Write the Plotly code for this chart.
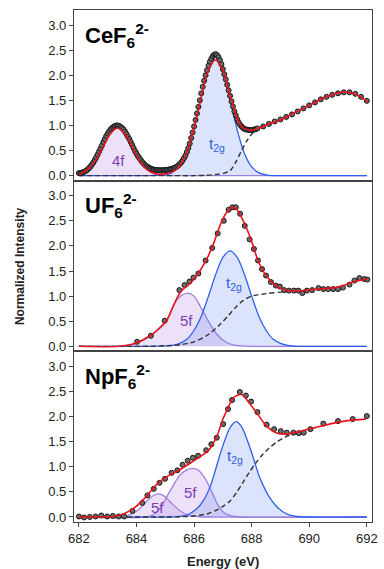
import plotly.graph_objects as go
from plotly.subplots import make_subplots

# ---------------- shared axis values ----------------
energy_ticks = [682, 684, 686, 688, 690, 692]
intensity_ticks = [0.0, 0.5, 1.0, 1.5, 2.0, 2.5, 3.0]
intensity_ticktext = ["0.0", "0.5", "1.0", "1.5", "2.0", "2.5", "3.0"]

# ---------------- CeF6 2- ----------------
ce_data_x = [682.00, 682.05, 682.10, 682.15, 682.20, 682.25, 682.30, 682.35, 682.40, 682.45,
             682.50, 682.55, 682.60, 682.65, 682.70, 682.75, 682.80, 682.85, 682.90, 682.95,
             683.00, 683.05, 683.10, 683.15, 683.20, 683.25, 683.30, 683.35, 683.40, 683.45,
             683.50, 683.55, 683.60, 683.65, 683.70, 683.75, 683.80, 683.85, 683.90, 683.95,
             684.00, 684.05, 684.10, 684.15, 684.20, 684.25, 684.30, 684.35, 684.40, 684.45,
             684.50, 684.55, 684.60, 684.65, 684.70, 684.75, 684.80, 684.85, 684.90, 684.95,
             685.00, 685.05, 685.10, 685.15, 685.20, 685.25, 685.30, 685.35, 685.40, 685.45,
             685.50, 685.55, 685.60, 685.65, 685.70, 685.75, 685.80, 685.85, 685.90, 685.95,
             686.00, 686.05, 686.10, 686.15, 686.20, 686.25, 686.30, 686.35, 686.40, 686.45,
             686.50, 686.55, 686.60, 686.65, 686.70, 686.75, 686.80, 686.85, 686.90, 686.95,
             687.00, 687.05, 687.10, 687.15, 687.20, 687.25, 687.30, 687.35, 687.40, 687.45,
             687.50, 687.55, 687.60, 687.65, 687.70, 687.75, 687.80, 687.85, 687.90, 687.95,
             688.00, 688.05, 688.10, 688.15, 688.20,
             688.40, 688.60, 688.80, 689.00, 689.20, 689.40, 689.60, 689.80, 690.00, 690.20,
             690.40, 690.60, 690.80, 691.00, 691.20, 691.40, 691.60, 691.80, 692.00]
ce_data_y = [0.05, 0.05, 0.06, 0.07, 0.08, 0.10, 0.12, 0.15, 0.18, 0.22,
             0.26, 0.31, 0.36, 0.42, 0.48, 0.54, 0.60, 0.67, 0.73, 0.79,
             0.84, 0.88, 0.92, 0.95, 0.97, 0.99, 1.00, 1.00, 0.99, 0.97,
             0.95, 0.92, 0.88, 0.83, 0.78, 0.73, 0.67, 0.61, 0.55, 0.49,
             0.44, 0.39, 0.35, 0.31, 0.27, 0.24, 0.21, 0.19, 0.17, 0.155,
             0.14, 0.13, 0.12, 0.115, 0.11, 0.11, 0.11, 0.105, 0.11, 0.11,
             0.11, 0.115, 0.12, 0.125, 0.13, 0.14, 0.15, 0.165, 0.18, 0.20,
             0.23, 0.26, 0.30, 0.35, 0.40, 0.47, 0.55, 0.64, 0.75, 0.86,
             0.98, 1.11, 1.24, 1.37, 1.50, 1.64, 1.77, 1.89, 2.00, 2.10,
             2.19, 2.27, 2.33, 2.38, 2.41, 2.42, 2.40, 2.36, 2.30, 2.22,
             2.12, 2.02, 1.92, 1.81, 1.70, 1.59, 1.48, 1.38, 1.28, 1.20,
             1.12, 1.06, 1.01, 0.98, 0.95, 0.93, 0.92, 0.915, 0.91, 0.91,
             0.91, 0.915, 0.92, 0.93, 0.94,
             0.98, 1.03, 1.08, 1.12, 1.17, 1.22, 1.28, 1.34, 1.40, 1.46,
             1.52, 1.57, 1.61, 1.64, 1.66, 1.66, 1.63, 1.57, 1.49]
ce_fit_x = [682.0, 682.3, 682.6, 682.85, 683.1, 683.34, 683.6, 683.85, 684.1, 684.35,
            684.6, 684.9, 685.2, 685.5, 685.8, 686.0, 686.24, 686.49, 686.74, 686.99,
            687.14, 687.3, 687.48, 687.65, 687.88, 688.1, 688.3, 688.6, 689.07, 689.4,
            689.75, 690.1, 690.43, 690.8, 691.11, 691.35, 691.57, 691.8, 692.02]
ce_fit_y = [0.02, 0.12, 0.32, 0.59, 0.84, 0.95, 0.83, 0.57, 0.30, 0.13,
            0.05, 0.03, 0.06, 0.19, 0.55, 0.95, 1.54, 2.09, 2.31, 2.11,
            1.83, 1.51, 1.17, 0.98, 0.91, 0.92, 0.96, 1.03, 1.13, 1.23,
            1.33, 1.43, 1.53, 1.61, 1.66, 1.66, 1.63, 1.56, 1.47]
ce_4f_x = [682.0, 682.34, 682.59, 682.84, 683.09, 683.34, 683.59, 683.84, 684.09,
           684.34, 684.59, 684.84, 685.2, 685.5, 692.0]
ce_4f_y = [0.026, 0.129, 0.308, 0.576, 0.838, 0.95, 0.838, 0.576, 0.308,
           0.129, 0.042, 0.011, 0.0, 0.0, 0.0]
ce_t2g_x = [682.0, 684.4, 684.7, 684.99, 685.24, 685.49, 685.74, 685.99, 686.24, 686.49,
            686.74, 686.99, 687.24, 687.49, 687.74, 687.99, 688.24, 688.49, 688.8,
            689.1, 692.0]
ce_t2g_y = [0.0, 0.0, 0.004, 0.016, 0.06, 0.183, 0.456, 0.927, 1.539, 2.087,
            2.31, 2.087, 1.539, 0.927, 0.456, 0.183, 0.06, 0.016, 0.0,
            0.0, 0.0]
ce_bg_x = [682.0, 685.5, 686.0, 686.5, 686.85, 687.05, 687.25, 687.45, 687.65, 687.85,
           688.05, 688.25, 688.45]
ce_bg_y = [0.0, 0.0, 0.0, 0.01, 0.03, 0.05, 0.10, 0.27, 0.50, 0.71,
           0.86, 0.94, 0.98]

# ---------------- UF6 2- ----------------
u_data_x = [684.02, 684.50, 684.98, 685.49, 685.67, 685.84, 685.98, 686.15, 686.40, 686.63,
            686.82, 687.03, 687.20, 687.33, 687.45, 687.60, 687.76, 687.93, 688.08, 688.22,
            688.36, 688.50, 688.67, 688.84, 688.98, 689.13, 689.30, 689.47, 689.62, 689.76,
            689.92, 690.10, 690.32, 690.49, 690.66, 690.83, 691.00, 691.17, 691.40, 691.57,
            691.74, 691.91, 692.02]
u_data_y = [0.09, 0.21, 0.51, 1.12, 1.22, 1.29, 1.37, 1.45, 1.71, 1.96,
            2.25, 2.50, 2.72, 2.77, 2.77, 2.64, 2.40, 2.13, 1.94, 1.71,
            1.54, 1.41, 1.28, 1.21, 1.19, 1.12, 1.11, 1.11, 1.11, 1.06,
            1.11, 1.12, 1.16, 1.14, 1.14, 1.14, 1.14, 1.17, 1.23, 1.31,
            1.36, 1.34, 1.33]
u_fit_x = [682.0, 683.4, 683.96, 684.47, 684.75, 685.04, 685.25, 685.44, 685.6, 685.78,
           686.0, 686.2, 686.46, 686.7, 686.91, 687.1, 687.31, 687.45, 687.71, 687.99,
           688.22, 688.5, 688.84, 689.18, 689.5, 689.75, 690.32, 690.89, 691.2, 691.45,
           691.75, 692.02]
u_fit_y = [0.0, 0.0, 0.06, 0.21, 0.34, 0.51, 0.76, 1.0, 1.13, 1.21,
           1.34, 1.5, 1.76, 2.08, 2.42, 2.64, 2.76, 2.75, 2.50, 2.11,
           1.71, 1.41, 1.21, 1.12, 1.10, 1.11, 1.14, 1.17, 1.21, 1.27,
           1.31, 1.34]
u_5f_x = [682.0, 683.3, 683.6, 683.96, 684.47, 685.04, 685.32, 685.55, 685.78, 686.0,
          686.23, 686.46, 686.78, 687.08, 687.38, 687.78, 688.2, 688.5, 692.0]
u_5f_y = [0.0, 0.0, 0.01, 0.05, 0.20, 0.50, 0.86, 1.01, 1.06, 1.0,
          0.78, 0.54, 0.25, 0.09, 0.025, 0.003, 0.0, 0.0, 0.0]
u_t2g_x = [682.0, 684.5, 684.8, 685.25, 685.5, 685.75, 686.0, 686.25, 686.5, 686.75,
           687.0, 687.25, 687.5, 687.75, 688.0, 688.25, 688.5, 688.75, 689.0, 689.25,
           689.6, 689.9, 692.0]
u_t2g_y = [0.0, 0.0, 0.003, 0.02, 0.06, 0.14, 0.32, 0.60, 1.0, 1.43,
           1.77, 1.90, 1.77, 1.43, 1.0, 0.60, 0.32, 0.14, 0.06, 0.02,
           0.0, 0.0, 0.0]
u_bg_x = [682.0, 684.4, 684.9, 685.5, 686.0, 686.46, 686.91, 687.2, 687.45, 687.7,
          688.0, 688.5, 689.0, 689.5, 689.9]
u_bg_y = [0.0, 0.0, 0.01, 0.03, 0.09, 0.22, 0.44, 0.62, 0.78, 0.91,
          1.0, 1.05, 1.08, 1.10, 1.11]

# ---------------- NpF6 2- ----------------
np_data_x = [682.00, 682.18, 682.38, 682.58, 682.78, 682.98, 683.18, 683.38, 683.57, 683.86,
             684.20, 684.38, 684.60, 684.80, 684.99, 685.22, 685.42, 685.60, 685.78, 685.96,
             686.14, 686.42, 686.60, 686.79, 687.01, 687.18, 687.32, 687.59, 687.80, 687.98,
             688.20, 688.52, 688.78, 689.01, 689.22, 689.45, 689.64, 689.81, 690.04, 690.49,
             691.00, 691.51, 692.00]
np_data_y = [0.01, -0.01, 0.00, 0.01, 0.03, 0.01, 0.02, 0.01, 0.01, 0.12,
             0.28, 0.43, 0.56, 0.68, 0.76, 0.88, 0.93, 1.04, 1.12, 1.18,
             1.22, 1.33, 1.45, 1.58, 1.85, 2.15, 2.33, 2.49, 2.42, 2.30,
             2.09, 1.84, 1.75, 1.71, 1.68, 1.68, 1.67, 1.68, 1.75, 1.86,
             1.91, 1.95, 2.01]
np_fit_x = [682.0, 683.4, 683.85, 684.3, 684.65, 684.98, 685.44, 685.89, 686.34, 686.55,
            686.8, 687.0, 687.17, 687.37, 687.65, 687.93, 688.22, 688.5, 688.84, 689.18,
            689.64, 690.21, 690.77, 691.34, 691.97]
np_fit_y = [0.0, 0.03, 0.15, 0.38, 0.62, 0.78, 0.92, 1.08, 1.25, 1.36,
            1.62, 1.95, 2.16, 2.38, 2.44, 2.26, 2.04, 1.82, 1.68, 1.65,
            1.70, 1.78, 1.86, 1.92, 1.95]
np_5f_a_x = [682.0, 683.4, 683.8, 684.08, 684.42, 684.6, 684.78, 684.95, 685.21, 685.5,
             685.78, 686.1, 686.5, 692.0]
np_5f_a_y = [0.0, 0.0, 0.05, 0.15, 0.35, 0.43, 0.46, 0.42, 0.28, 0.13,
             0.04, 0.01, 0.0, 0.0]
np_5f_b_x = [682.0, 684.3, 684.6, 684.85, 685.1, 685.35, 685.55, 685.75, 685.96, 686.15,
             686.4, 686.63, 686.85, 687.05, 687.3, 687.6, 692.0]
np_5f_b_y = [0.0, 0.0, 0.05, 0.2, 0.45, 0.7, 0.86, 0.94, 0.97, 0.93,
             0.75, 0.48, 0.22, 0.08, 0.02, 0.0, 0.0]
np_t2g_x = [682.0, 685.2, 685.5, 685.8, 686.12, 686.35, 686.57, 686.75, 686.91, 687.08,
            687.25, 687.46, 687.65, 687.93, 688.1, 688.27, 688.45, 688.61, 688.85, 689.07,
            689.3, 689.6, 690.0, 692.0]
np_t2g_y = [0.0, 0.0, 0.01, 0.05, 0.18, 0.35, 0.62, 0.95, 1.26, 1.55,
            1.78, 1.90, 1.80, 1.40, 1.10, 0.80, 0.57, 0.40, 0.22, 0.11,
            0.04, 0.01, 0.0, 0.0]
np_bg_x = [682.0, 685.0, 685.5, 686.0, 686.5, 686.8, 687.03, 687.25, 687.48, 687.7,
           687.93, 688.15, 688.39, 688.6, 688.84, 689.1, 689.41, 689.7]
np_bg_y = [0.0, 0.0, 0.005, 0.02, 0.07, 0.14, 0.22, 0.32, 0.49, 0.69,
           0.90, 1.08, 1.25, 1.37, 1.48, 1.57, 1.65, 1.69]

# ---------------- styling ----------------
FONT = "Liberation Sans, Arial, Helvetica, sans-serif"
PURPLE_LINE = "#a47ddf"
PURPLE_FILL = "rgba(185,135,230,0.25)"
PURPLE_TEXT = "#7a3db5"
BLUE_LINE = "#2f5ff0"
BLUE_FILL = "rgba(90,130,240,0.22)"
BLUE_TEXT = "#2d5fe3"
RED = "#e8141e"
DASH = "#333333"
FRAME = "#444444"

fig = make_subplots(rows=3, cols=1, shared_xaxes=True, vertical_spacing=0)


def add_component(row, x, y, line_color, fill_color):
    fig.add_trace(go.Scatter(x=x, y=y, mode="lines", fill="tozeroy",
                             fillcolor=fill_color,
                             line=dict(color=line_color, width=1.3, shape="spline", smoothing=0.8),
                             hoverinfo="skip", showlegend=False), row=row, col=1)


def add_rest(row, bg_x, bg_y, dx, dy, fx, fy):
    fig.add_trace(go.Scatter(x=bg_x, y=bg_y, mode="lines",
                             line=dict(color=DASH, width=1.4, dash="5px,3px", shape="spline", smoothing=0.8),
                             showlegend=False), row=row, col=1)
    fig.add_trace(go.Scatter(x=dx, y=dy, mode="markers",
                             marker=dict(size=5, color="#6e6e6e", line=dict(color="#151515", width=1)),
                             showlegend=False), row=row, col=1)
    fig.add_trace(go.Scatter(x=fx, y=fy, mode="lines",
                             line=dict(color=RED, width=1.6, shape="spline", smoothing=0.8),
                             showlegend=False), row=row, col=1)


# panel 1
add_component(1, ce_4f_x, ce_4f_y, PURPLE_LINE, PURPLE_FILL)
add_component(1, ce_t2g_x, ce_t2g_y, BLUE_LINE, BLUE_FILL)
add_rest(1, ce_bg_x, ce_bg_y, ce_data_x, ce_data_y, ce_fit_x, ce_fit_y)
# panel 2
add_component(2, u_5f_x, u_5f_y, PURPLE_LINE, PURPLE_FILL)
add_component(2, u_t2g_x, u_t2g_y, BLUE_LINE, BLUE_FILL)
add_rest(2, u_bg_x, u_bg_y, u_data_x, u_data_y, u_fit_x, u_fit_y)
# panel 3
add_component(3, np_5f_a_x, np_5f_a_y, PURPLE_LINE, PURPLE_FILL)
add_component(3, np_5f_b_x, np_5f_b_y, PURPLE_LINE, PURPLE_FILL)
add_component(3, np_t2g_x, np_t2g_y, BLUE_LINE, BLUE_FILL)
add_rest(3, np_bg_x, np_bg_y, np_data_x, np_data_y, np_fit_x, np_fit_y)

for r in (1, 2, 3):
    fig.update_yaxes(range=[-0.1, 3.3], tickvals=intensity_ticks, ticktext=intensity_ticktext,
                     ticks="outside", ticklen=4, tickwidth=1, tickcolor=FRAME,
                     showline=True, linecolor=FRAME, linewidth=1.3, mirror=True,
                     showgrid=False, zeroline=False,
                     tickfont=dict(family=FONT, size=13, color="#222"), row=r, col=1)
    fig.update_xaxes(range=[681.83, 692.18], showline=True, linecolor=FRAME, linewidth=1.3,
                     mirror=True, showgrid=False, zeroline=False, row=r, col=1)
fig.update_xaxes(tickvals=energy_ticks, ticks="outside", ticklen=4, tickwidth=1, tickcolor=FRAME,
                 showticklabels=True, tickfont=dict(family=FONT, size=13, color="#222"),
                 row=3, col=1)

titles = ["CeF<sub>6</sub><sup>2-</sup>", "UF<sub>6</sub><sup>2-</sup>", "NpF<sub>6</sub><sup>2-</sup>"]
axis_ids = ["", "2", "3"]
for t, a in zip(titles, axis_ids):
    fig.add_annotation(text="<b>" + t + "</b>", xref="x" + a + " domain", yref="y" + a + " domain",
                       x=0.03, y=0.955, xanchor="left", yanchor="top", showarrow=False,
                       font=dict(family=FONT, size=22, color="#000"))

labels = [
    ("4f", 683.37, 0.31, "", PURPLE_TEXT),
    ("t<sub>2g</sub>", 686.81, 0.62, "", BLUE_TEXT),
    ("5f", 685.73, 0.51, "2", PURPLE_TEXT),
    ("t<sub>2g</sub>", 687.37, 1.26, "2", BLUE_TEXT),
    ("5f", 684.72, 0.18, "3", PURPLE_TEXT),
    ("5f", 685.86, 0.49, "3", PURPLE_TEXT),
    ("t<sub>2g</sub>", 687.41, 1.20, "3", BLUE_TEXT),
]
for txt, lx, ly, a, col in labels:
    fig.add_annotation(text=txt, x=lx, y=ly, xref="x" + a, yref="y" + a, showarrow=False,
                       xanchor="center", yanchor="middle",
                       font=dict(family=FONT, size=15, color=col))

fig.add_annotation(text="<b>Normalized Intensity</b>", xref="paper", yref="paper",
                   x=-0.181, y=0.5, xanchor="center", yanchor="middle", textangle=-90,
                   showarrow=False, font=dict(family=FONT, size=12, color="#222"))
fig.add_annotation(text="<b>Energy (eV)</b>", xref="paper", yref="paper",
                   x=0.5, y=-0.0775, xanchor="center", yanchor="middle",
                   showarrow=False, font=dict(family=FONT, size=13, color="#222"))

fig.update_layout(width=384, height=569, margin=dict(l=74, r=6, t=10, b=47),
                  paper_bgcolor="white", plot_bgcolor="white", showlegend=False)

fig.write_html("out.html", config={"displayModeBar": False},
               post_script="document.body.style.margin='0';document.body.style.overflow='hidden';")
